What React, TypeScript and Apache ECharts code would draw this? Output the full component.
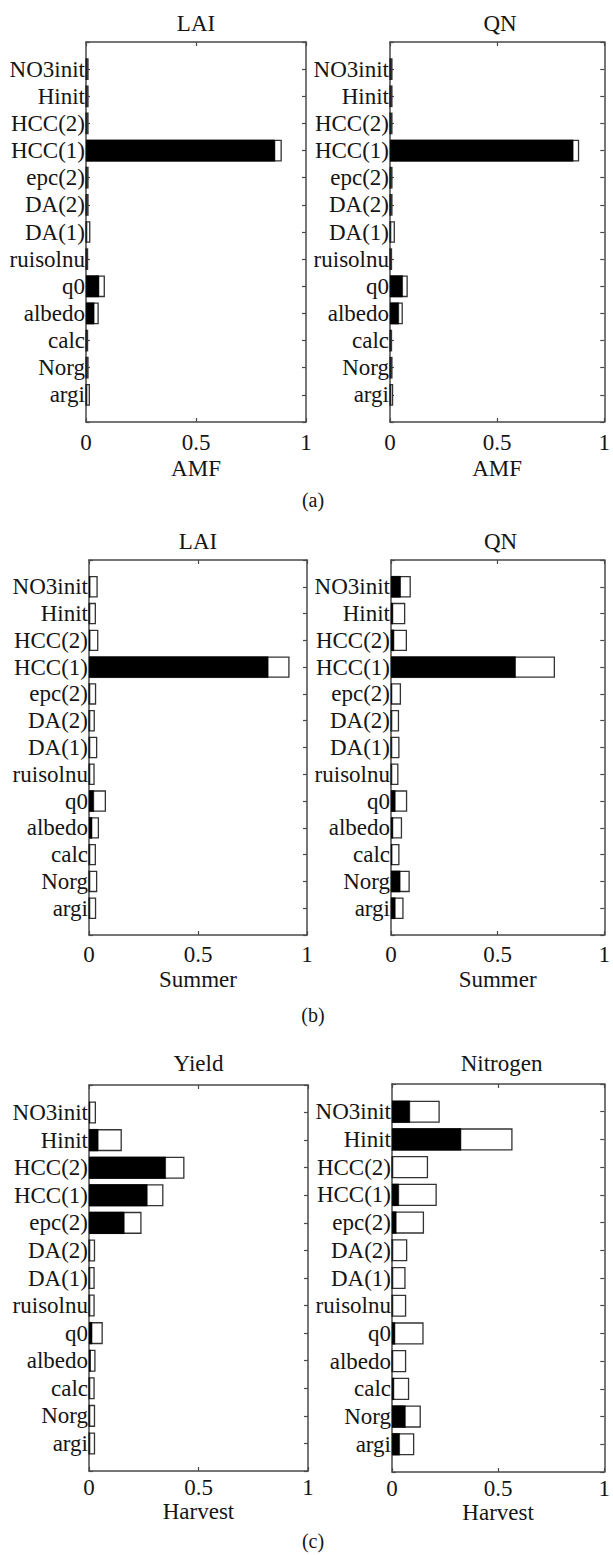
import React, { useEffect, useRef } from "react";
import * as echarts from "echarts";

// Parameters, listed top-to-bottom as in the figure
const categories = [
  "NO3init", "Hinit", "HCC(2)", "HCC(1)", "epc(2)", "DA(2)", "DA(1)",
  "ruisolnu", "q0", "albedo", "calc", "Norg", "argi",
];

const panelTitles = ["LAI", "QN", "LAI", "QN", "Yield", "Nitrogen"];
const axisNames = ["AMF", "AMF", "Summer", "Summer", "Harvest", "Harvest"];
const rowLabels = ["(a)", "(b)", "(c)"];

// first-order (black) and total (white) indices
const amfLaiFirst = [0, 0, 0, 0.86, 0, 0, 0, 0, 0.06, 0.038, 0, 0, 0];
const amfLaiTotal = [0.012, 0.012, 0.012, 0.89, 0.012, 0.012, 0.02, 0.01, 0.086, 0.058, 0.01, 0.012, 0.018];
const amfQnFirst = [0, 0, 0, 0.856, 0, 0, 0, 0, 0.06, 0.042, 0, 0, 0];
const amfQnTotal = [0.012, 0.012, 0.012, 0.883, 0.012, 0.012, 0.023, 0.01, 0.083, 0.06, 0.01, 0.012, 0.015];

const sumLaiFirst = [0.005, 0, 0.005, 0.823, 0, 0, 0, 0, 0.023, 0.015, 0, 0, 0];
const sumLaiTotal = [0.04, 0.032, 0.043, 0.92, 0.033, 0.027, 0.038, 0.026, 0.078, 0.046, 0.032, 0.038, 0.033];
const sumQnFirst = [0.046, 0.01, 0.015, 0.585, 0.003, 0, 0, 0, 0.021, 0.01, 0.005, 0.044, 0.021];
const sumQnTotal = [0.093, 0.067, 0.075, 0.769, 0.047, 0.038, 0.04, 0.035, 0.076, 0.052, 0.04, 0.088, 0.059];

const harYieldFirst = [0.003, 0.043, 0.351, 0.267, 0.162, 0, 0, 0, 0.015, 0.008, 0, 0, 0];
const harYieldTotal = [0.032, 0.15, 0.436, 0.34, 0.24, 0.028, 0.026, 0.026, 0.063, 0.03, 0.026, 0.028, 0.028];
const harNitroFirst = [0.085, 0.326, 0, 0.033, 0.021, 0, 0, 0, 0.015, 0, 0.01, 0.064, 0.037];
const harNitroTotal = [0.225, 0.568, 0.17, 0.211, 0.151, 0.072, 0.064, 0.067, 0.149, 0.067, 0.081, 0.136, 0.105];

const xMin = 0;
const xMax = 1;
const xInterval = 0.5;

const panelFirst = [amfLaiFirst, amfQnFirst, sumLaiFirst, sumQnFirst, harYieldFirst, harNitroFirst];
const panelTotal = [amfLaiTotal, amfQnTotal, sumLaiTotal, sumQnTotal, harYieldTotal, harNitroTotal];

// layout
const grids = [
  { left: 86, top: 42, width: 220, height: 380 },
  { left: 390, top: 42, width: 220, height: 380 },
  { left: 89, top: 560, width: 218, height: 375 },
  { left: 391, top: 560, width: 219, height: 375 },
  { left: 89, top: 1085, width: 219, height: 386 },
  { left: 392, top: 1084, width: 219, height: 388 },
];
const rowLabelMargin = [9, 8, 5];
const rowNameGap = [35, 33, 29];
const rowTitleY = [23, 541, 1063];
const rowLabelY = [500, 1015, 1541];

const FONT = "'Liberation Serif', 'Times New Roman', serif";
const FS = 23;
const TEXT = "#151515";
const LINE = "#4a4a4a";

export default function App() {
  const ref = useRef<HTMLDivElement>(null);

  useEffect(() => {
    if (!ref.current) return;
    const chart = echarts.init(ref.current, undefined, { renderer: "svg" });

    // bottom-to-top with an empty slot at each end
    const yCats = ["", ...categories.slice().reverse(), ""];
    const toSeries = (arr: number[]) => ["-", ...arr.slice().reverse(), "-"];

    const xAxis: any[] = [];
    const yAxis: any[] = [];
    const series: any[] = [];
    const graphic: any[] = [];

    grids.forEach((g, i) => {
      const row = Math.floor(i / 2);
      const lineStyle = { color: LINE, width: 1.5 };
      const tick = { show: true, inside: true, length: 4, lineStyle: { color: LINE, width: 1.2 } };
      xAxis.push({
        gridIndex: i,
        type: "value",
        min: xMin,
        max: xMax,
        interval: xInterval,
        position: "bottom",
        axisLine: { show: true, onZero: false, lineStyle },
        axisTick: tick,
        splitLine: { show: false },
        axisLabel: { margin: rowLabelMargin[row], fontFamily: FONT, fontSize: FS, color: TEXT },
        name: axisNames[i],
        nameLocation: "middle",
        nameGap: rowNameGap[row],
        nameTextStyle: { fontFamily: FONT, fontSize: FS, color: TEXT },
      });
      xAxis.push({
        gridIndex: i,
        type: "value",
        min: xMin,
        max: xMax,
        interval: xInterval,
        position: "top",
        axisLine: { show: true, onZero: false, lineStyle },
        axisTick: tick,
        splitLine: { show: false },
        axisLabel: { show: false },
      });
      yAxis.push({
        gridIndex: i,
        type: "category",
        data: yCats,
        boundaryGap: false,
        position: "left",
        axisLine: { show: true, onZero: false, lineStyle },
        axisTick: { ...tick, interval: 0 },
        splitLine: { show: false },
        axisLabel: { interval: 0, margin: 1, fontFamily: FONT, fontSize: FS, color: TEXT },
      });
      yAxis.push({
        gridIndex: i,
        type: "category",
        data: yCats,
        boundaryGap: false,
        position: "right",
        axisLine: { show: true, onZero: false, lineStyle },
        axisTick: { ...tick, interval: 0 },
        splitLine: { show: false },
        axisLabel: { show: false },
      });
      series.push({
        type: "bar",
        xAxisIndex: 2 * i,
        yAxisIndex: 2 * i,
        data: toSeries(panelTotal[i]),
        barWidth: "80%",
        barGap: "-100%",
        itemStyle: { color: "#ffffff", borderColor: "#333333", borderWidth: 1.3 },
        z: 2,
      });
      series.push({
        type: "bar",
        xAxisIndex: 2 * i,
        yAxisIndex: 2 * i,
        data: toSeries(panelFirst[i]),
        barWidth: "80%",
        barGap: "-100%",
        itemStyle: { color: "#000000", borderColor: "#000000", borderWidth: 0.5 },
        z: 3,
      });
      graphic.push({
        type: "text",
        x: g.left + g.width / 2,
        y: rowTitleY[row],
        style: {
          text: panelTitles[i],
          fontFamily: FONT,
          fontSize: FS,
          fill: TEXT,
          align: "center",
          verticalAlign: "middle",
        },
      });
    });

    rowLabels.forEach((t, r) => {
      graphic.push({
        type: "text",
        x: 313,
        y: rowLabelY[r],
        style: {
          text: t,
          fontFamily: FONT,
          fontSize: 20,
          fill: TEXT,
          align: "center",
          verticalAlign: "middle",
        },
      });
    });

    chart.setOption({
      animation: false,
      backgroundColor: "#ffffff",
      grid: grids.map((g) => ({ ...g, containLabel: false })),
      xAxis,
      yAxis,
      series,
      graphic,
    });

    return () => chart.dispose();
  }, []);

  return (
    <div
      ref={ref}
      style={{ position: "absolute", left: 0, top: 0, width: 613, height: 1555, background: "#fff" }}
    />
  );
}
